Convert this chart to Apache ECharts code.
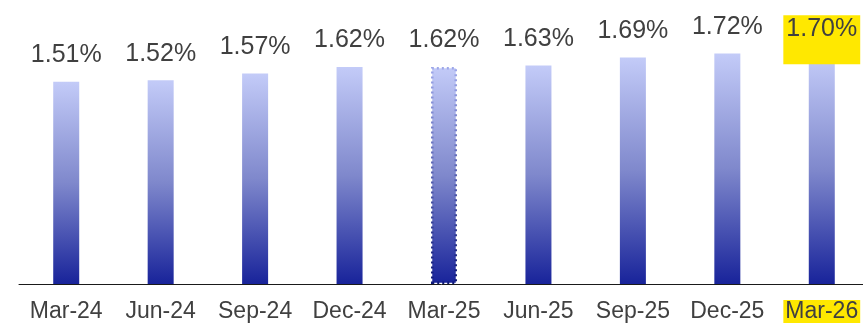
<!DOCTYPE html>
<html><head><meta charset="utf-8">
<script src="https://cdn.jsdelivr.net/npm/echarts@6/dist/echarts.min.js"></script>
<style>html,body{margin:0;padding:0;background:#fff}#c{width:863px;height:329px}</style>
</head><body><div id="c"></div>
<script>
const categories = ['Mar-24','Jun-24','Sep-24','Dec-24','Mar-25','Jun-25','Sep-25','Dec-25','Mar-26'];
const values = [1.51, 1.52, 1.57, 1.62, 1.62, 1.63, 1.69, 1.72, 1.70];
const dottedIndex = 4;
const highlightIndex = 8;

const FONT = '"Liberation Sans", Arial, sans-serif';
const grad = () => new echarts.graphic.LinearGradient(0,0,0,1,[
  {offset:0,color:'#c3cbf8'},{offset:0.5,color:'#7f88cc'},{offset:1,color:'#18239a'}]);

const data = values.map((v,i)=>{
  const d = {value:v};
  if(i===dottedIndex){
    d.itemStyle = {borderColor: new echarts.graphic.LinearGradient(0,0,0,1,[
      {offset:0,color:'#9ea8ea'},{offset:1,color:'#0e1878'}]), borderWidth:2.5, borderType:[2,3]};
  }
  if(i===highlightIndex){
    d.label = {backgroundColor:'#ffe800', padding:[1,3,23,3], distance:-8};
  }
  return d;
});

const cats = categories.map((c,i)=> i===highlightIndex ?
  {value:c, textStyle:{backgroundColor:'#ffe800', padding:[0,2,0,2]}} : c);

const chart = echarts.init(document.getElementById('c'));
chart.setOption({
  animation:false,
  grid:{left:19,width:850,top:16,height:268,outerBoundsMode:'none',containLabel:false},
  xAxis:{type:'category',data:cats,
    axisLine:{lineStyle:{color:'#1a1a1a',width:1}},
    axisTick:{show:false},
    axisLabel:{color:'#404040',fontSize:23,fontFamily:FONT,margin:16,interval:0}},
  yAxis:{type:'value',min:0,max:2,show:false,splitLine:{show:false}},
  series:[{type:'bar',data:data,barWidth:26,
    itemStyle:{color:grad()},
    label:{show:true,position:'top',distance:14,color:'#404040',fontSize:25,fontFamily:FONT,
      formatter:p=>p.value.toFixed(2)+'%'}}]
});
</script></body></html>
